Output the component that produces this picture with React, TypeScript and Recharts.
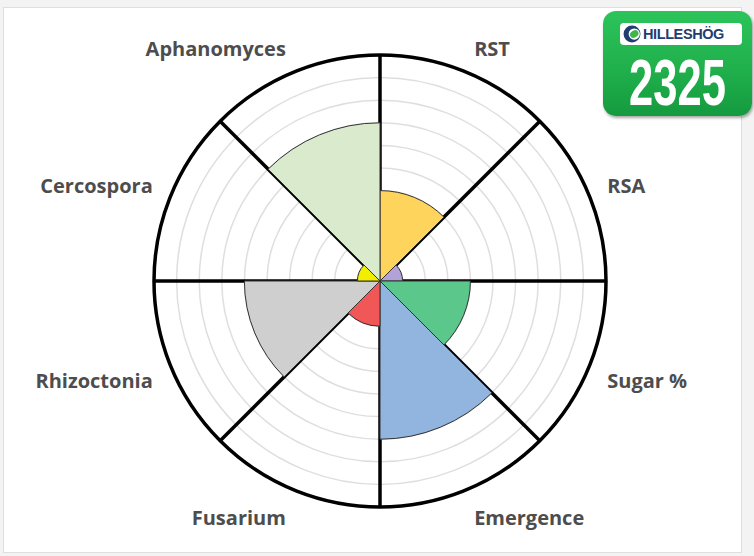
import {
  RadialBarChart,
  RadialBar,
  PolarAngleAxis,
  PolarRadiusAxis,
  PolarGrid,
  Cell,
} from "recharts";

// clockwise from 12 o'clock
const traits = ["RST", "RSA", "Sugar %", "Emergence", "Fusarium", "Rhizoctonia", "Cercospora", "Aphanomyces"];
const scores = [4, 1, 4, 7, 2, 6, 1, 7];
const colors = ["#FFD45C", "#B3A2D8", "#5CC78A", "#92B5DF", "#F25757", "#D0CFCF", "#F2EE00", "#D9EACD"];
const radiusTicks = [0, 1, 2, 3, 4, 5, 6, 7, 8, 9, 10];
const separatorAngles = [90, 45, 0, -45, -90, -135, -180, -225];

const data = traits.map((name, i) => ({ name, value: scores[i] }));

const CX = 380;
const CY = 281;
const OUTER = 226;
const HALF_BAND = 360 / traits.length / 2;

// axis ticks sit on the band edge, so move each label to the middle of its sector
function TraitTick(props: any) {
  const { payload } = props;
  const a = ((payload.coordinate + HALF_BAND) * Math.PI) / 180;
  const cos = Math.cos(a);
  const sin = Math.sin(a);
  const x = CX + (OUTER + 20) * cos;
  const y = CY + 2 - (OUTER + 28) * sin;
  const anchor = cos > 0.01 ? "start" : cos < -0.01 ? "end" : "middle";
  return (
    <text
      x={x}
      y={y}
      textAnchor={anchor}
      dominantBaseline="central"
      fontFamily="'Open Sans', sans-serif"
      fontWeight={700}
      fontSize={20}
      fill="#4d4d4d"
    >
      {payload.value}
    </text>
  );
}

function Logo() {
  return (
    <div
      style={{
        position: "absolute",
        left: 603,
        top: 11,
        width: 149,
        height: 105,
        borderRadius: 13,
        background: "linear-gradient(180deg, #2cc45a 0%, #1fae4b 60%, #159a3f 100%)",
        boxShadow: "1px 2px 3px rgba(0,0,0,0.35)",
      }}
    >
      <div
        style={{
          position: "absolute",
          left: 17,
          top: 12,
          width: 122,
          height: 22,
          borderRadius: 4,
          background: "#fff",
          display: "flex",
          alignItems: "center",
          gap: 2,
          paddingLeft: 3,
          boxSizing: "border-box",
        }}
      >
        <svg width={18} height={18} viewBox="0 0 16 16">
          <circle cx={8} cy={8} r={7.5} fill="#1f3d70" />
          <circle cx={10} cy={8} r={5} fill="#fff" />
          <ellipse cx={10} cy={8} rx={4} ry={3} fill="#3fb54a" transform="rotate(-30 10 8)" />
        </svg>
        <span
          style={{
            fontFamily: "'Liberation Sans', Arial, sans-serif",
            fontWeight: 700,
            fontSize: 14.5,
            color: "#1f3d70",
            letterSpacing: -0.4,
          }}
        >
          HILLESHÖG
        </span>
      </div>
      <div
        style={{
          position: "absolute",
          left: 0,
          top: 37,
          width: 149,
          textAlign: "center",
          fontFamily: "'Liberation Sans', Arial, sans-serif",
          fontWeight: 700,
          fontSize: 64,
          lineHeight: "70px",
          color: "#fff",
          transform: "scaleX(0.68)",
        }}
      >
        2325
      </div>
    </div>
  );
}

export default function App() {
  return (
    <div
      style={{
        position: "absolute",
        left: 0,
        top: 0,
        width: 754,
        height: 556,
        background: "#f3f3f3",
        overflow: "hidden",
      }}
    >
      <div
        style={{
          position: "absolute",
          left: 3,
          top: 7,
          width: 739,
          height: 546,
          background: "#fff",
          border: "1px solid #dedede",
          boxSizing: "border-box",
        }}
      />
      <div style={{ position: "absolute", left: 0, top: 0 }}>
        <RadialBarChart
          width={754}
          height={556}
          cx={CX}
          cy={CY}
          innerRadius={0}
          outerRadius={OUTER}
          startAngle={45}
          endAngle={-315}
          layout="centric"
          data={data}
          barCategoryGap={0}
          barGap={0}
          margin={{ top: 0, right: 0, bottom: 0, left: 0 }}
        >
          <PolarAngleAxis type="category" dataKey="name" axisLine={false} tickLine={false} tick={<TraitTick />} />
          <PolarRadiusAxis type="number" domain={[0, 10]} ticks={radiusTicks} tick={false} axisLine={false} />
          <RadialBar dataKey="value" isAnimationActive={false} stroke="#333" strokeWidth={1}>
            {data.map((_, i) => (
              <Cell key={i} fill={colors[i]} />
            ))}
          </RadialBar>
          <PolarGrid gridType="circle" radialLines={false} stroke="rgba(0,0,0,0.13)" strokeWidth={1.5} />
          <PolarGrid
            gridType="circle"
            polarAngles={separatorAngles}
            polarRadius={[OUTER]}
            stroke="#000"
            strokeWidth={3.5}
          />
        </RadialBarChart>
      </div>
      <Logo />
    </div>
  );
}
